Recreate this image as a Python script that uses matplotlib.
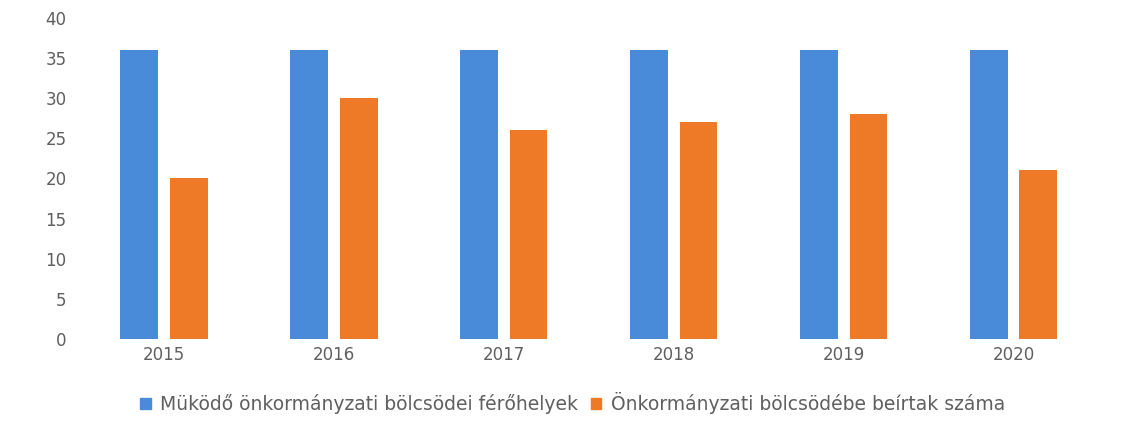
#!/usr/bin/env python3
import numpy as np
import matplotlib.pyplot as plt
from matplotlib.patches import Patch

YEARS = ["2015", "2016", "2017", "2018", "2019", "2020"]
FEROHELYEK = [36, 36, 36, 36, 36, 36]
BEIRTAK = [20, 30, 26, 27, 28, 21]
LABEL_FH = "Müködő önkormányzati bölcsödei férőhelyek"
LABEL_BE = "Önkormányzati bölcsödébe beírtak száma"

BLUE = "#4A8BD9"
ORANGE = "#EE7A27"
GRAY = "#5F5F5F"

def main():
    plt.rcParams["font.family"] = ["DejaVu Sans"]
    fig = plt.figure(figsize=(11.34, 4.38), dpi=100)
    ax = fig.add_axes([0.0697, 0.226, 0.899, 0.733])

    x = np.arange(len(YEARS))
    w = 0.222
    gap = 0.07
    off = (w + gap) / 2
    ax.bar(x - off, FEROHELYEK, w, color=BLUE, label=LABEL_FH)
    ax.bar(x + off, BEIRTAK, w, color=ORANGE, label=LABEL_BE)

    ax.set_xlim(-0.5, len(YEARS) - 0.5)
    ax.set_ylim(0, 40)
    ax.set_yticks(range(0, 41, 5))
    ax.set_xticks(x)
    ax.set_xticklabels(YEARS)
    for s in ax.spines.values():
        s.set_visible(False)
    ax.tick_params(axis="both", length=0, labelsize=12, labelcolor=GRAY)
    ax.tick_params(axis="y", pad=9)
    ax.tick_params(axis="x", pad=5)

    # legend spread a bit wider, like the scanned original
    handles = [Patch(color=BLUE, label=LABEL_FH), Patch(color=ORANGE, label=LABEL_BE)]
    fig.legend(handles=handles, loc="center", bbox_to_anchor=(0.505, 0.08), ncol=2,
               frameon=False, fontsize=13.5, labelcolor=GRAY,
               handlelength=0.55, handleheight=0.55, handletextpad=0.5, columnspacing=0.7)

    fig.savefig("out.png", dpi=100)

if __name__ == "__main__":
    main()
